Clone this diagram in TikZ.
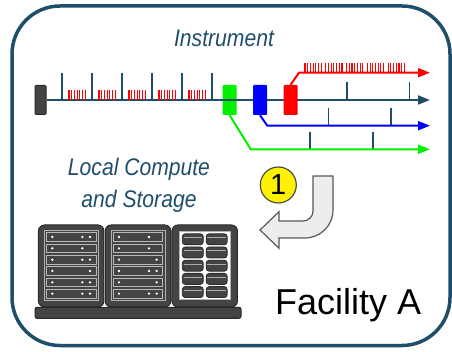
\documentclass[tikz,border=0pt]{standalone}
\usepackage{fontspec}
\setmainfont{Liberation Sans}
\newfontfamily\captionfont[FakeStretch=0.88]{Liberation Sans}
\usetikzlibrary{arrows.meta,positioning}
\definecolor{slate}{RGB}{31,78,107}
\definecolor{rackgray}{RGB}{68,68,68}
\definecolor{rackline}{RGB}{40,40,40}
\definecolor{beamgreen}{RGB}{0,240,0}
\tikzset{
  beam/.style={slate, line width=2},
  tick/.style={slate, line width=1.6},
  comb/.style={red, line width=1.1},
  branch/.style={line width=2, -{Triangle[length=12,width=9]}},
  chopper/.style={minimum width=14, minimum height=30, inner sep=0, rounded corners=1},
  rack/.style={fill=rackgray, draw=rackline, line width=1, rounded corners=6,
    minimum width=65.5, minimum height=82, inner sep=0},
  rackunit/.style={fill=rackgray, draw=gray!55, line width=0.7,
    minimum width=49.3, minimum height=8.6, inner sep=0},
  disk/.style={fill=rackgray, draw=rackline, line width=0.8, rounded corners=3,
    minimum width=21, minimum height=11, inner sep=0},
  caption/.style={text=slate, font=\captionfont\itshape\fontsize{24}{31.3}\selectfont},
}
\begin{document}
\begin{tikzpicture}[x=1pt,y=1pt]
\useasboundingbox (0,0) rectangle (452,-352);
\def\tickh {27}
\def\combh {10}

% facility frame
\draw[slate, line width=3.5, rounded corners=48] (12,-6) rectangle (450,-345.5);

% beamline
\node[caption, anchor=base] (instr) at (224,-46.7) {Instrument};
\node[fill=rackgray, draw=rackline, line width=1, minimum width=11, minimum height=29,
  inner sep=0, rounded corners=1] (src) at (40.5,-100) {};
\node[chopper, fill=beamgreen] (gbox) at (229.7,-100) {};
\coordinate (beamtip) at (430,-100);
\draw[beam, -{Triangle[length=12,width=9]}] (src.east) -- (beamtip);
\node[chopper, fill=blue] (bbox) at (260,-100) {};
\node[chopper, fill=red] (rbox) at (290.5,-100) {};

\foreach \x in {62,92,...,212}
  \draw[tick] (\x,-100) -- ++(0,\tickh);
\foreach \x in {69,99,...,189}
  \foreach \i in {0,...,6}
    \draw[comb] (\x+\i*2.7,-100) -- ++(0,\combh);
\foreach \x in {346.7,409.3}
  \draw[tick] (\x,-100) -- ++(0,18.3);

% red branch
\coordinate (redturn) at (299,-72.7);
\coordinate (redtip) at (430,-72.7);
\draw[branch, red] (rbox.north) -- (redturn) -- (redtip);
\foreach \x in {305,325.8,...,390}
  \foreach \i in {0,...,6}
    \draw[comb] (\x+\i*2.7,-72.7) -- ++(0,9.4);

% blue branch
\coordinate (blueturn) at (267.3,-125.7);
\coordinate (bluetip) at (430,-125.7);
\foreach \x in {328.3,391}
  \draw[tick] (\x,-125.7) -- ++(0,18);
\draw[branch, blue] (bbox.south) -- (blueturn) -- (bluetip);

% green branch
\coordinate (greenturn) at (250.7,-149.3);
\coordinate (greentip) at (430,-149.3);
\foreach \x in {310,372.7}
  \draw[tick] (\x,-149.3) -- ++(0,17);
\draw[branch, beamgreen] (gbox.south) -- (greenturn) -- (greentip);

% step 1: data goes down to local storage
\node[circle, fill=yellow, draw=gray!60!black, line width=1.2, minimum size=36, inner sep=0,
  font=\fontsize{29}{29}\selectfont] (step1) at (278.3,-185) {1};
\draw[fill=gray!14, draw=gray!70!black, line width=1.2]
  (313,-176) -- (333,-176) -- (333,-210) arc[start angle=0, end angle=-90, radius=28]
  -- (279,-238) -- (279,-248.3) -- (260,-230) -- (279,-211.7) -- (279,-221)
  -- (303,-221) arc[start angle=-90, end angle=0, radius=10] -- cycle;

% compute and storage racks
\node[caption, align=center, anchor=base] (local) at (139,-207.3) {Local Compute\\and Storage};
\node[rack] (rackA) at (71.2,-266) {};
\node[rack] (rackB) at (138,-266) {};
\node[rack] (rackC) at (204.7,-266) {};
\node[fill=rackgray, draw=rackline, line width=1, rounded corners=2, minimum width=206,
  minimum height=11, inner sep=0] (floor) at (138,-312.8) {};

\foreach \c in {0,1}
  \draw[gray!60, line width=0.7] ({44.3+\c*66.7},-230) rectangle ({98.3+\c*66.7},-300);
\foreach \c/\s in {0/{2,1,2,3,2,2}, 1/{1,1,3,2,3,2}}
  \foreach \k [count=\r] in \s {
    \node[rackunit] (u\c\r) at ({71.35+\c*66.7},{-237-(\r-1)*11.33}) {};
    \fill[white] ({52.3+\c*66.7},{-237-(\r-1)*11.33}) circle (1.3);
    \ifnum\k=3\else \fill[white] ({82.3+\c*66.7},{-237-(\r-1)*11.33}) circle (1.3); \fi
    \ifnum\k=1\else \fill[white] ({90+\c*66.7},{-237-(\r-1)*11.33}) circle (1.3); \fi
  }

\draw[fill=white, draw=gray!60, line width=0.7] (179,-231.7) rectangle (230.7,-299);
\foreach \c in {0,1}
  \foreach \r in {0,...,4} {
    \node[disk] (d\c\r) at ({192.8+\c*23.9},{-239.3-\r*13.2}) {};
    \draw[gray!65, line width=0.6] ({183.5+\c*23.9},{-237.6-\r*13.2}) -- ++(18.6,0);
  }

\node[anchor=base west, font=\fontsize{36}{40}\selectfont] (site) at (271.7,-315) {Facility A};
\end{tikzpicture}
\end{document}
